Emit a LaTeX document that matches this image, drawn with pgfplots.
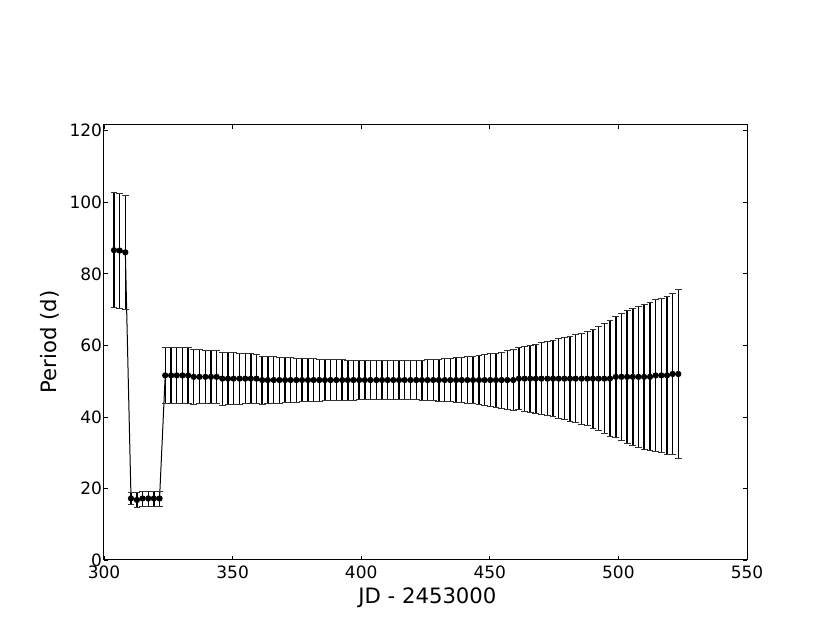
\documentclass[border=0pt]{standalone}
\usepackage{fontspec}
\setmainfont{DejaVu Sans}
\usepackage{pgfplots}
\usepackage{pgfplotstable}
\pgfplotsset{compat=1.18}

% JD offset, period, error
\pgfplotstableread{
x y e
303.9 86.6 16.1
306.1 86.5 16.1
308.3 86.0 15.9
310.5 17.2 1.8
312.8 16.8 2.0
315.0 17.2 2.1
317.2 17.2 2.1
319.4 17.2 2.1
321.6 17.2 2.1
323.8 51.6 7.9
326.1 51.6 7.85
328.3 51.6 7.8
330.5 51.6 7.75
332.7 51.6 7.7
334.9 51.2 7.6
337.1 51.2 7.55
339.4 51.2 7.5
341.6 51.2 7.5
343.8 51.2 7.45
346.0 50.7 7.4
348.2 50.7 7.3
350.4 50.7 7.2
352.7 50.7 7.1
354.9 50.7 7.0
357.1 50.7 6.9
359.3 50.7 6.8
361.5 50.3 6.7
363.7 50.3 6.6
366.0 50.3 6.5
368.2 50.3 6.4
370.4 50.3 6.3
372.6 50.3 6.2
374.8 50.3 6.15
377.0 50.3 6.1
379.3 50.3 6.0
381.5 50.3 5.95
383.7 50.3 5.9
385.9 50.3 5.8
388.1 50.3 5.75
390.3 50.3 5.7
392.6 50.3 5.65
394.8 50.3 5.6
397.0 50.3 5.6
399.2 50.3 5.55
401.4 50.3 5.5
403.6 50.3 5.5
405.9 50.3 5.5
408.1 50.3 5.5
410.3 50.3 5.5
412.5 50.3 5.5
414.7 50.3 5.5
416.9 50.3 5.55
419.2 50.3 5.55
421.4 50.3 5.55
423.6 50.3 5.6
425.8 50.3 5.7
428.0 50.3 5.75
430.2 50.3 5.85
432.5 50.3 5.95
434.7 50.3 6.05
436.9 50.3 6.2
439.1 50.3 6.35
441.3 50.3 6.5
443.5 50.3 6.65
445.8 50.3 6.85
448.0 50.3 7.05
450.2 50.3 7.3
452.4 50.3 7.55
454.6 50.3 7.85
456.8 50.3 8.15
459.1 50.3 8.45
461.3 50.7 8.75
463.5 50.7 9.05
465.7 50.7 9.35
467.9 50.7 9.65
470.1 50.7 10.0
472.4 50.7 10.35
474.6 50.7 10.7
476.8 50.7 11.1
479.0 50.7 11.5
481.2 50.7 11.9
483.4 50.7 12.3
485.7 50.7 12.7
487.9 50.7 13.1
490.1 50.7 13.8
492.3 50.7 14.6
494.5 50.7 15.4
496.7 50.7 16.2
499.0 51.2 17.0
501.2 51.2 17.8
503.4 51.2 18.5
505.6 51.2 19.2
507.8 51.2 19.8
510.0 51.2 20.3
512.3 51.2 20.7
514.5 51.6 21.2
516.7 51.6 21.6
518.9 51.6 22.0
521.1 52.0 22.5
523.3 52.0 23.6
}\period

\begin{document}
\begin{tikzpicture}
  \begin{axis}[
    scale only axis,
    width=643pt, height=435.7pt,
    xmin=300, xmax=550, ymin=0, ymax=121.8,
    xtick={300,350,...,550}, ytick={0,20,...,120},
    minor tick num=0,
    tick align=inside, tick pos=both,
    major tick length=4.4pt,
    tick style={black, line width=0.8pt},
    axis line style={black, line width=1pt},
    /pgf/number format/assume math mode=true,
    tick label style={font=\fontsize{17}{20}\selectfont},
    xticklabel style={yshift=-2pt},
    yticklabel style={xshift=1.5pt},
    xlabel={JD - 2453000}, ylabel={Period (d)},
    label style={font=\fontsize{21.2}{25}\selectfont, inner sep=0pt},
    xlabel style={at={(axis description cs:0.503,-0.064)}, anchor=north},
    ylabel style={at={(axis description cs:-0.084,0.5)}, anchor=center},
    clip=false,
  ]
    \addplot[black, line width=1pt, mark=*, mark size=2.6pt,
      error bars/.cd, y dir=both, y explicit,
      error bar style={black, line width=1.4pt},
      error mark options={rotate=90, black!80, line width=0.9pt, mark size=3.4pt}]
      table[x=x, y=y, y error=e] {\period};
  \end{axis}
  \pgfresetboundingbox
  \path ([shift={(-104pt,-63pt)}]current axis.south west)
    rectangle ([shift={(83pt,124.3pt)}]current axis.north east);
\end{tikzpicture}
\end{document}
